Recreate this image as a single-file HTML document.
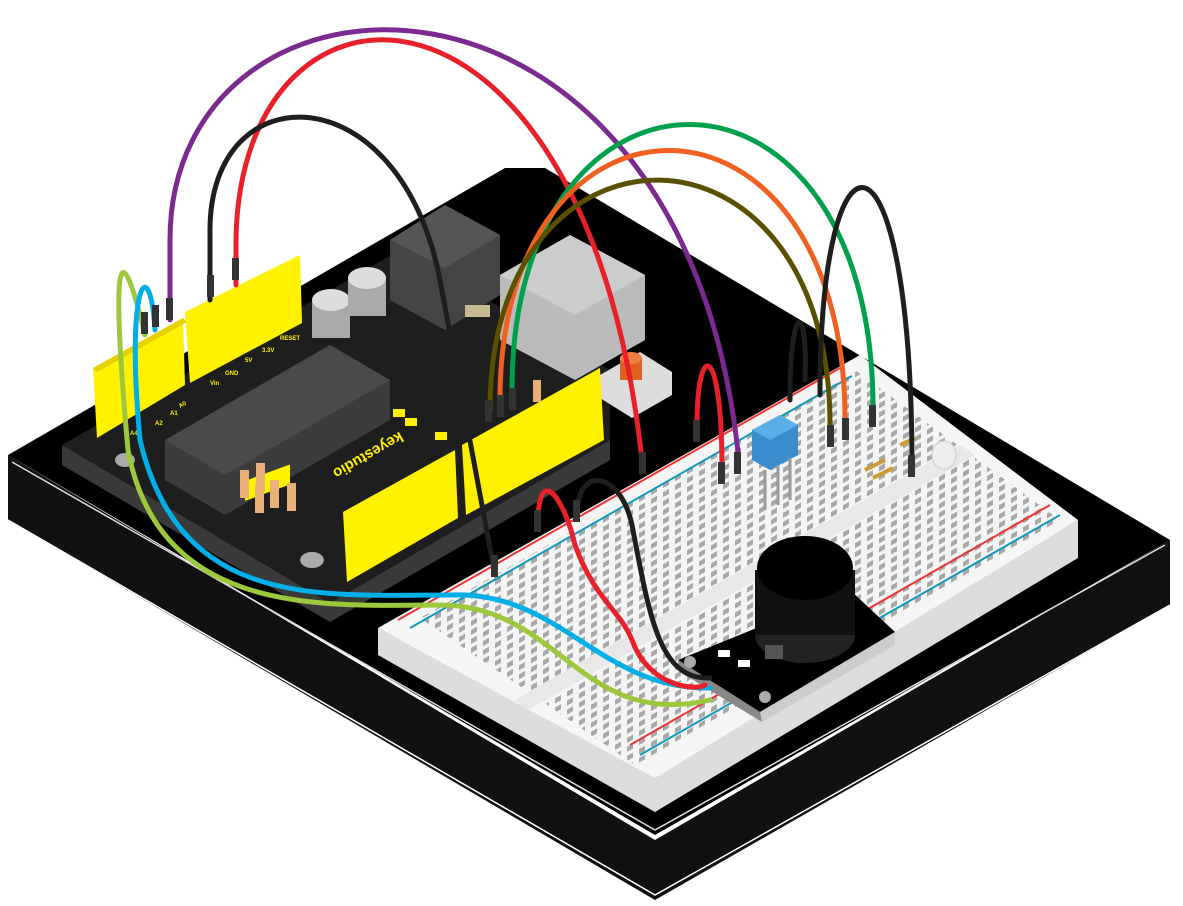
<!DOCTYPE html>
<html><head><meta charset="utf-8"><style>html,body{margin:0;padding:0;background:#fff}svg{display:block}</style></head>
<body>
<svg width="1183" height="906" viewBox="0 0 1183 906" xmlns="http://www.w3.org/2000/svg">
<defs>
<pattern id="holes" width="12" height="9" patternUnits="userSpaceOnUse" patternTransform="skewY(-30)">
<rect width="12" height="9" fill="#f4f4f4"/><rect x="3" y="2" width="6" height="5" fill="#9a9a9a"/>
</pattern>
</defs>
<polygon points="8,455 8,520 655,900 1170,605 1170,540 655,840" fill="#111"/>
<polygon points="8,455 505,168 545,168 1170,540 655,835" fill="#000"/>
<polyline points="8,520 655,895 1170,605" fill="none" stroke="#fff" stroke-width="1.5"/>
<polyline points="12,462 655,830 1165,545" fill="none" stroke="#ddd" stroke-width="1.5"/>
<polygon points="378,628 378,655 655,812 1078,558 1078,520 655,775" fill="#ddd"/>
<polygon points="378,628 860,355 1078,520 655,778" fill="#f5f5f5"/>
<polygon points="420,618 855,370 1060,520 635,765" fill="url(#holes)" opacity="0.85"/>
<line x1="398" y1="620" x2="840" y2="368" stroke="#e33" stroke-width="2"/>
<line x1="410" y1="628" x2="852" y2="376" stroke="#19b" stroke-width="2"/>
<line x1="630" y1="745" x2="1050" y2="505" stroke="#e33" stroke-width="2"/>
<line x1="640" y1="755" x2="1060" y2="515" stroke="#19b" stroke-width="2"/>
<polygon points="515,700 960,445 975,455 528,710" fill="#e8e8e8"/>
<polygon points="62,445 62,465 330,622 610,460 610,440 330,603" fill="#3a3a3a"/>
<polygon points="62,445 400,250 610,370 610,440 330,603" fill="#1e1e1e"/>
<ellipse cx="125" cy="460" rx="10" ry="7" fill="#aaa"/>
<ellipse cx="312" cy="560" rx="12" ry="8" fill="#aaa"/>
<polygon points="165,440 330,345 390,380 390,420 225,515 165,480" fill="#3c3c3c"/>
<polygon points="165,440 330,345 390,380 225,475" fill="#4a4a4a"/>
<polygon points="390,240 445,205 500,235 500,295 445,330 390,300" fill="#444"/>
<polygon points="390,240 445,205 500,235 445,268" fill="#555"/>
<polygon points="500,275 570,235 645,275 645,340 575,380 500,340" fill="#bbb"/>
<polygon points="500,275 570,235 645,275 575,315" fill="#ccc"/>
<rect x="312" y="300" width="38" height="38" fill="#aaa"/><ellipse cx="331" cy="300" rx="19" ry="11" fill="#ddd"/>
<rect x="348" y="278" width="38" height="38" fill="#aaa"/><ellipse cx="367" cy="278" rx="19" ry="11" fill="#ddd"/>
<rect x="465" y="305" width="25" height="12" fill="#c8b890"/>
<polygon points="600,375 640,352 672,372 672,395 632,418 600,398" fill="#ddd"/>
<rect x="620" y="358" width="22" height="22" fill="#e06020"/><ellipse cx="631" cy="358" rx="11" ry="6" fill="#f08040"/>
<polygon points="93,368 183,318 185,385 97,438" fill="#fff100"/>
<polygon points="93,368 183,318 187,322 97,372" fill="#e6d000"/>
<polygon points="185,312 300,255 302,323 190,383" fill="#fff100"/>
<polygon points="462,445 600,368 604,440 466,515" fill="#fff100"/>
<polygon points="343,512 455,450 458,518 347,582" fill="#fff100"/>
<rect x="245" y="480" width="45" height="20" fill="#fff100" transform="skewY(-20) translate(0,90)"/>
<g fill="#e9b07a"><rect x="240" y="470" width="9" height="28"/><rect x="256" y="463" width="9" height="28"/><rect x="270" y="480" width="9" height="28"/><rect x="287" y="483" width="9" height="28"/><rect x="255" y="485" width="9" height="28"/><rect x="533" y="380" width="8" height="22"/></g>
<g fill="#fff100"><rect x="393" y="409" width="12" height="8"/><rect x="405" y="418" width="12" height="8"/><rect x="435" y="432" width="12" height="8"/></g>
<text x="330" y="470" fill="#fff100" font-family="Liberation Sans,sans-serif" font-size="15" font-weight="bold" transform="rotate(150 370 460)">keyestudio</text>
<g fill="#fff100" font-family="Liberation Sans,sans-serif" font-size="6" font-weight="bold"><text x="180" y="408" transform="rotate(-30 180 408)">A0</text><text x="170" y="415">A1</text><text x="155" y="425">A2</text><text x="130" y="435">A4</text><text x="210" y="385">Vin</text><text x="225" y="375">GND</text><text x="245" y="362">5V</text><text x="262" y="352">3.3V</text><text x="280" y="340">RESET</text></g>
<polygon points="752,430 780,415 798,425 798,455 770,470 752,460" fill="#3a8ccc"/>
<polygon points="752,430 780,415 798,425 770,440" fill="#5aaee8"/>
<g stroke="#999" stroke-width="3"><line x1="765" y1="470" x2="765" y2="510"/><line x1="778" y1="465" x2="778" y2="505"/><line x1="790" y1="458" x2="790" y2="500"/></g>
<ellipse cx="944" cy="455" rx="12" ry="14" fill="#eee" stroke="#ccc"/>
<g stroke="#c93" stroke-width="4"><line x1="865" y1="470" x2="885" y2="460"/><line x1="873" y1="478" x2="893" y2="468"/><line x1="900" y1="445" x2="915" y2="438"/></g>
<polygon points="678,660 850,590 895,632 760,712" fill="#000"/>
<polygon points="760,712 895,632 895,645 762,722" fill="#ccc"/>
<polygon points="678,660 760,712 762,722 680,672" fill="#888"/>
<circle cx="690" cy="662" r="6" fill="#aaa"/><circle cx="765" cy="697" r="6" fill="#aaa"/><circle cx="832" cy="610" r="6" fill="#aaa"/>
<rect x="718" y="650" width="12" height="7" fill="#fff"/><rect x="738" y="660" width="12" height="7" fill="#fff"/>
<ellipse cx="805" cy="635" rx="50" ry="28" fill="#222"/>
<rect x="755" y="570" width="100" height="65" fill="#111"/>
<ellipse cx="805" cy="568" rx="48" ry="32" fill="#000"/>
<rect x="765" y="645" width="18" height="14" fill="#555"/>
<g fill="none" stroke-width="5" stroke-linecap="round">
<path d="M170,320 L170,240 C170,-60 680,-80 738,452" stroke="#7b2a8f"/>
<path d="M236,285 L236,240 C240,-55 590,-60 643,470" stroke="#e8202a"/>
<path d="M210,300 L210,230 C210,72 400,72 440,280 L495,575" stroke="#1e1e1e"/>
<path d="M512,390 C512,33 873,33 873,408" stroke="#00a04c"/>
<path d="M500,400 C500,64 845,64 845,420" stroke="#f06020"/>
<path d="M490,410 C490,101 830,101 830,425" stroke="#5a5000"/>
<path d="M820,395 C820,107 912,107 912,470" stroke="#1e1e1e"/>
<path d="M790,400 C790,300 808,300 805,380" stroke="#1e1e1e"/>
<path d="M697,425 C697,340 722,340 722,470" stroke="#e8202a"/>
<path d="M145,335 C120,230 110,250 128,450 C160,620 330,605 440,605 C560,605 580,730 710,700" stroke="#9bc83c"/>
<path d="M155,330 C150,250 125,280 140,440 C180,610 320,595 450,595 C560,590 600,690 710,688" stroke="#00aee8"/>
<path d="M538,525 C538,460 565,500 575,545 C595,600 620,610 632,640 C650,690 700,690 705,685" stroke="#e8202a"/>
<path d="M577,515 C577,465 620,470 632,525 C650,620 660,680 710,678" stroke="#1e1e1e"/>
</g>
<g fill="#333"><rect x="141" y="312" width="7" height="22"/><rect x="152" y="305" width="7" height="22"/><rect x="166" y="298" width="7" height="22"/><rect x="207" y="275" width="7" height="22"/><rect x="232" y="258" width="7" height="22"/><rect x="485" y="400" width="7" height="22"/><rect x="497" y="395" width="7" height="22"/><rect x="509" y="388" width="7" height="22"/><rect x="639" y="452" width="7" height="22"/><rect x="491" y="555" width="7" height="22"/><rect x="534" y="510" width="7" height="22"/><rect x="573" y="500" width="7" height="22"/><rect x="693" y="420" width="7" height="22"/><rect x="718" y="462" width="7" height="22"/><rect x="734" y="452" width="7" height="22"/><rect x="827" y="425" width="7" height="22"/><rect x="842" y="418" width="7" height="22"/><rect x="869" y="405" width="7" height="22"/><rect x="908" y="455" width="7" height="22"/></g>
</svg>
</body></html>
